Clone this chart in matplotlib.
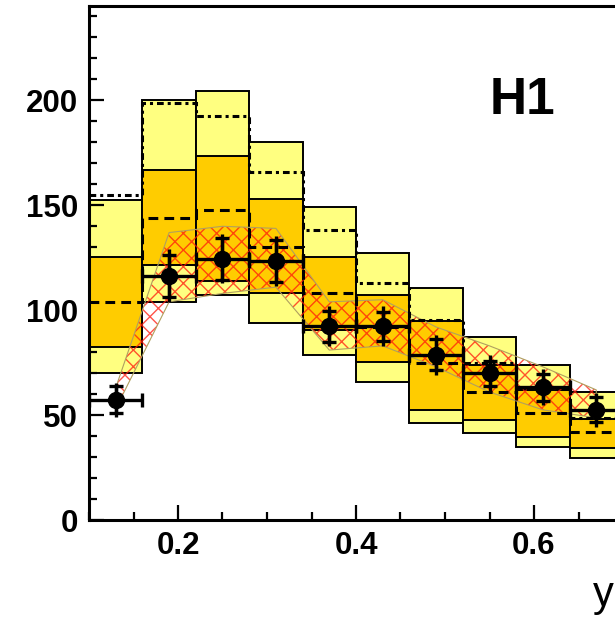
import matplotlib
matplotlib.use("Agg")
import matplotlib.pyplot as plt
from matplotlib.ticker import MultipleLocator, FixedLocator
import numpy as np

# Binning in y
bin_edges = [0.10, 0.16, 0.22, 0.28, 0.34, 0.40, 0.46, 0.52, 0.58, 0.64, 0.70]

# Measured cross section with statistical and total uncertainties
data_vals = [57.3, 116.5, 124.6, 123.3, 92.3, 92.3, 78.8, 70.0, 63.3, 52.5]
stat_err = [6.5, 10.0, 10.0, 10.0, 7.5, 7.0, 7.5, 6.0, 6.5, 6.0]
tot_err = [8.0, 12.5, 11.5, 12.0, 9.5, 9.5, 9.5, 8.5, 8.5, 8.0]

# Outer (light) and inner (dark) model uncertainty boxes
outer_lo = [70.2, 104.0, 107.4, 94.0, 78.8, 66.0, 46.3, 41.5, 35.0, 29.6]
outer_hi = [152.3, 200.0, 204.3, 180.0, 149.0, 127.4, 110.7, 87.0, 74.0, 61.0]
inner_lo = [82.6, 121.7, 114.0, 108.4, 90.5, 75.4, 52.5, 47.7, 39.6, 34.4]
inner_hi = [125.5, 167.0, 173.3, 153.0, 125.5, 107.4, 95.0, 74.0, 62.0, 48.0]

# Alternative model predictions (step histograms)
dotted_vals = [155.0, 198.6, 192.4, 166.0, 138.0, 113.0, 95.5, 75.0, 62.5, 48.7]
dashed_vals = [104.0, 144.0, 148.0, 130.0, 108.4, 92.0, 75.0, 61.0, 51.0, 42.0]

# Hatched prediction band evaluated at the bin centres
band_hi = [63.0, 137.0, 140.0, 139.0, 104.0, 105.0, 92.0, 83.0, 73.0, 62.0]
band_lo = [53.0, 104.0, 108.0, 111.0, 81.0, 83.0, 73.0, 61.0, 52.5, 48.7]

x_tick_labels = ["0.2", "0.4", "0.6"]
y_tick_labels = ["0", "50", "100", "150", "200"]

plt.rcParams["font.family"] = ["Liberation Sans", "DejaVu Sans"]
plt.rcParams["hatch.linewidth"] = 1.0

edges = np.array(bin_edges)
lefts = edges[:-1]
widths = np.diff(edges)
centres = lefts + widths / 2

fig = plt.figure(figsize=(6.15, 6.2), dpi=100)
ax = fig.add_axes([89 / 615, 100 / 620, 0.65 * 890 / 615, 514 / 620])
ax.set_xlim(0.10, 0.75)
ax.set_ylim(0, 245)

light_yellow = "#ffff80"
orange = "#ffcc00"

ax.bar(lefts, np.array(outer_hi) - np.array(outer_lo), bottom=outer_lo,
       width=widths, align="edge", color=light_yellow, edgecolor="black",
       linewidth=1.4, zorder=1)
ax.bar(lefts, np.array(inner_hi) - np.array(inner_lo), bottom=inner_lo,
       width=widths, align="edge", color=orange, edgecolor="black",
       linewidth=1.4, zorder=2)

ax.fill_between(centres, band_lo, band_hi, facecolor="none",
                edgecolor=(1.0, 0.1, 0.05, 0.75), hatch="xx", linewidth=0,
                zorder=3)
ax.fill_between(centres, band_lo, band_hi, facecolor="none",
                edgecolor="#b0a060", linewidth=0.8, zorder=3)

ax.stairs(dotted_vals, edges, baseline=None, color="black", linewidth=2.2,
          linestyle=(0, (2.2, 1.3, 1.0, 1.3)), zorder=4)
ax.stairs(dashed_vals, edges, baseline=None, color="black", linewidth=2.2,
          linestyle=(0, (3.2, 2.0)), zorder=4)

ax.errorbar(centres, data_vals, yerr=tot_err, fmt="none", ecolor="black",
            elinewidth=2.4, capsize=0, zorder=5)
ax.errorbar(centres, data_vals, yerr=stat_err, xerr=widths / 2, fmt="o",
            color="black", markersize=11.5, elinewidth=2.4, capsize=5,
            capthick=2.4, zorder=6)

ax.xaxis.set_major_locator(FixedLocator([0.2, 0.4, 0.6]))
ax.set_xticklabels(x_tick_labels)
ax.xaxis.set_minor_locator(MultipleLocator(0.05))
ax.yaxis.set_major_locator(FixedLocator([0, 50, 100, 150, 200]))
ax.set_yticklabels(y_tick_labels)
ax.yaxis.set_minor_locator(MultipleLocator(10))

ax.tick_params(which="both", direction="in", width=1.6, top=False,
               right=False)
ax.tick_params(which="major", length=11, labelsize=22.5, pad=8)
ax.tick_params(which="minor", length=5.5)
for lab in ax.get_xticklabels() + ax.get_yticklabels():
    lab.set_fontweight("bold")
for sp in ax.spines.values():
    sp.set_linewidth(2.2)

ax.text(0.587, 200, "H1", fontsize=37, fontweight="bold", ha="center",
        va="center", zorder=7)

fig.text(593 / 615, 1 - 606 / 620, "y", fontsize=30, ha="left",
         va="baseline")

fig.savefig("out.png", dpi=100)
